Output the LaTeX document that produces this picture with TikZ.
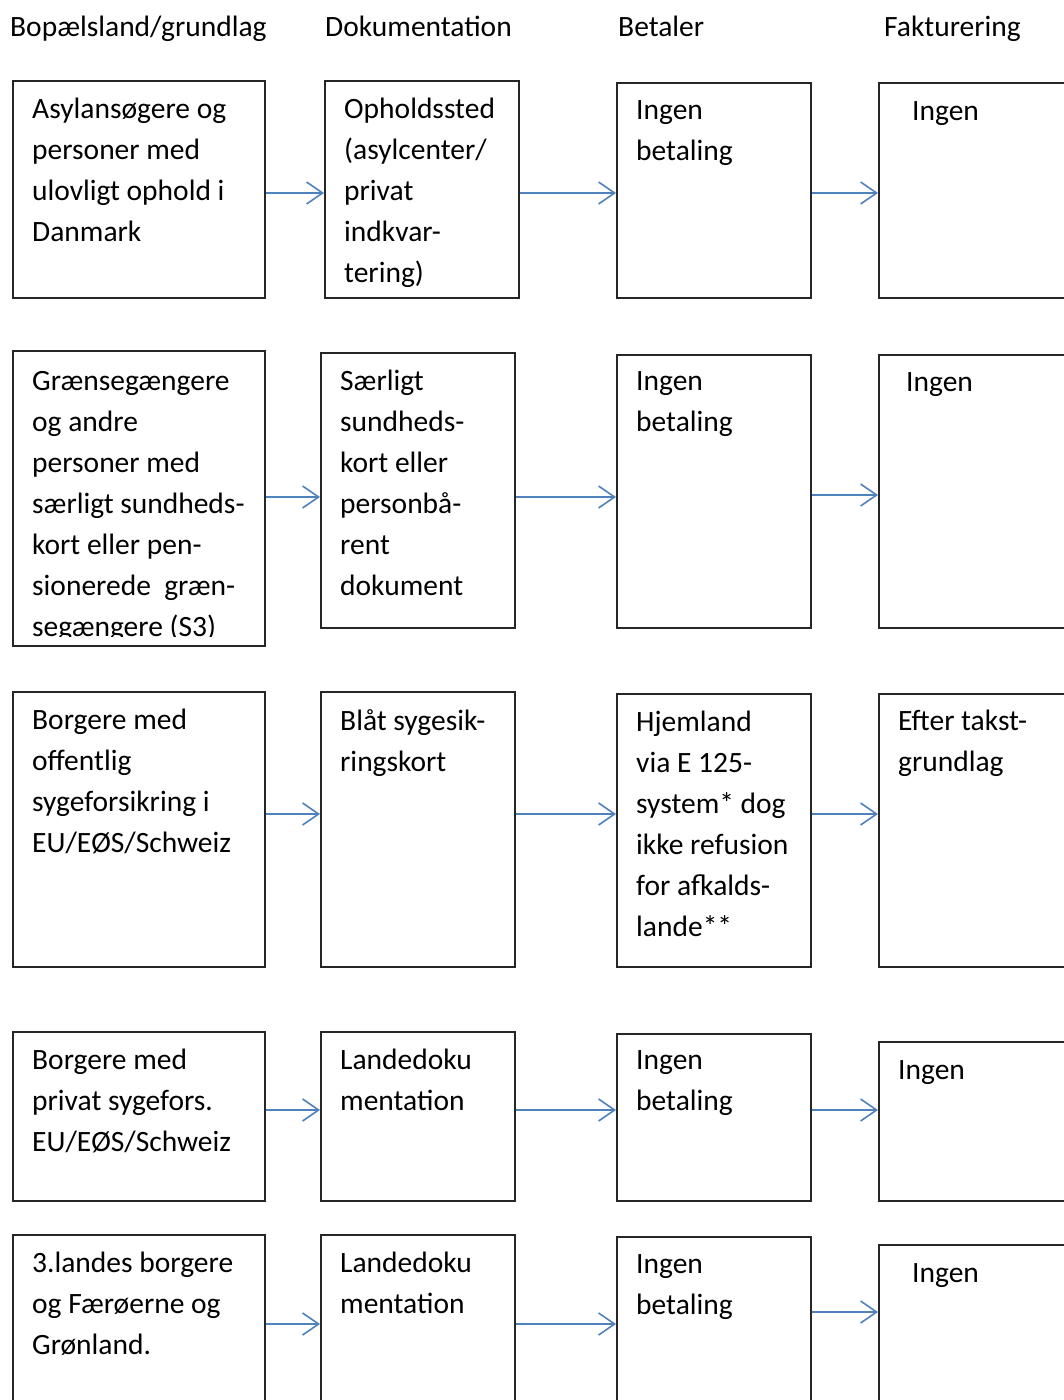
\documentclass[tikz,border=0pt]{standalone}
\usepackage{fontspec}
\setmainfont{Carlito}
\usetikzlibrary{positioning,arrows.meta,calc}

\begin{document}
\begin{tikzpicture}[x=1pt, y=-1pt,
		box/.style={rectangle, draw=black!85, line width=1.5pt, anchor=north west, inner sep=0pt},
		txt/.style={anchor=north west, align=left, inner sep=0pt, font=\fontsize{29.5}{41}\selectfont, execute at begin node=\strut},
		arr/.style={draw={rgb,255:red,79;green,129;blue,189}, line width=1.6pt, -{Straight Barb[length=16pt, width=22pt, line width=1.6pt]}}
	]
	\clip (0,0) rectangle (1064,1400);
	% headings
	\node[txt] (hbop) at (10,8) {Bopælsland/grundlag};
	\node[txt] (hdok) at (325,8) {Dokumentation};
	\node[txt] (hbet) at (618,8) {Betaler};
	\node[txt] (hfak) at (884,8) {Fakturering};
	% row 1
	\node[box, minimum width=252, minimum height=217] (a1) at (12,80) {};
	\node[box, minimum width=194, minimum height=217] (a2) at (324,80) {};
	\node[box, minimum width=194, minimum height=215] (a3) at (616,82) {};
	\node[box, minimum width=200, minimum height=215] (a4) at (878,82) {};
	\node[txt] (a1text) at ($(a1.north west)+(20,18)$) {Asylansøgere og\\personer med\\ulovligt ophold i\\Danmark};
	\node[txt] (a2text) at ($(a2.north west)+(20,18)$) {Opholdssted\\(asylcenter/\\privat\\indkvar-\\tering)};
	\node[txt] (a3text) at ($(a3.north west)+(20,18)$) {Ingen\\betaling};
	\node[txt] (a4text) at ($(a4.north west)+(34,10)$) {Ingen};
	% row 2
	\node[box, minimum width=252, minimum height=295] (b1) at (12,350) {};
	\node[box, minimum width=194, minimum height=275] (b2) at (320,352) {};
	\node[box, minimum width=194, minimum height=273] (b3) at (616,354) {};
	\node[box, minimum width=200, minimum height=273] (b4) at (878,354) {};
	\begin{scope}
		\clip (b1.north west) rectangle ([yshift=10pt]b1.south east);
		\node[txt] (b1text) at ($(b1.north west)+(20,21)$) {Grænsegængere\\og andre\\personer med\\særligt sundheds-\\kort eller pen-\\sionerede~ græn-\\segængere (S3)};
	\end{scope}
	\node[txt] (b2text) at ($(b2.north west)+(20,18)$) {Særligt\\sundheds-\\kort eller\\personbå-\\rent\\dokument};
	\node[txt] (b3text) at ($(b3.north west)+(20,17)$) {Ingen\\betaling};
	\node[txt] (b4text) at ($(b4.north west)+(28,9)$) {Ingen};
	% row 3
	\node[box, minimum width=252, minimum height=275] (c1) at (12,691) {};
	\node[box, minimum width=194, minimum height=275] (c2) at (320,691) {};
	\node[box, minimum width=194, minimum height=273] (c3) at (616,693) {};
	\node[box, minimum width=200, minimum height=273] (c4) at (878,693) {};
	\node[txt] (c1text) at ($(c1.north west)+(20,18)$) {Borgere med\\offentlig\\sygeforsikring i\\EU/EØS/Schweiz};
	\node[txt] (c2text) at ($(c2.north west)+(20,18)$) {Blåt sygesik-\\ringskort};
	\node[txt] (c3text) at ($(c3.north west)+(20,18)$) {Hjemland\\via E 125-\\system* dog\\ikke refusion\\for afkalds-\\lande**};
	\node[txt] (c4text) at ($(c4.north west)+(20,17)$) {Efter takst-\\grundlag};
	% row 4
	\node[box, minimum width=252, minimum height=169] (d1) at (12,1031) {};
	\node[box, minimum width=194, minimum height=169] (d2) at (320,1031) {};
	\node[box, minimum width=194, minimum height=167] (d3) at (616,1033) {};
	\node[box, minimum width=200, minimum height=159] (d4) at (878,1041) {};
	\node[txt] (d1text) at ($(d1.north west)+(20,18)$) {Borgere med\\privat sygefors.\\EU/EØS/Schweiz};
	\node[txt] (d2text) at ($(d2.north west)+(20,18)$) {Landedoku\\mentation};
	\node[txt] (d3text) at ($(d3.north west)+(20,17)$) {Ingen\\betaling};
	\node[txt] (d4text) at ($(d4.north west)+(20,10)$) {Ingen};
	% row 5
	\node[box, minimum width=252, minimum height=200] (e1) at (12,1234) {};
	\node[box, minimum width=194, minimum height=200] (e2) at (320,1234) {};
	\node[box, minimum width=194, minimum height=200] (e3) at (616,1236) {};
	\node[box, minimum width=200, minimum height=200] (e4) at (878,1244) {};
	\node[txt] (e1text) at ($(e1.north west)+(20,18)$) {3.landes borgere\\og Færøerne og\\Grønland.};
	\node[txt] (e2text) at ($(e2.north west)+(20,18)$) {Landedoku\\mentation};
	\node[txt] (e3text) at ($(e3.north west)+(20,18)$) {Ingen\\betaling};
	\node[txt] (e4text) at ($(e4.north west)+(34,10)$) {Ingen};
	% arrows
	\draw[arr] (a1.east |- 0,193) -- (a2.west |- 0,193);
	\draw[arr] (a2.east |- 0,193) -- (a3.west |- 0,193);
	\draw[arr] (a3.east |- 0,193) -- (a4.west |- 0,193);
	\draw[arr] (b1.east |- 0,497) -- (b2.west |- 0,497);
	\draw[arr] (b2.east |- 0,497) -- (b3.west |- 0,497);
	\draw[arr] (b3.east |- 0,495) -- (b4.west |- 0,495);
	\draw[arr] (c1.east |- 0,814) -- (c2.west |- 0,814);
	\draw[arr] (c2.east |- 0,814) -- (c3.west |- 0,814);
	\draw[arr] (c3.east |- 0,814) -- (c4.west |- 0,814);
	\draw[arr] (d1.east |- 0,1110) -- (d2.west |- 0,1110);
	\draw[arr] (d2.east |- 0,1110) -- (d3.west |- 0,1110);
	\draw[arr] (d3.east |- 0,1110) -- (d4.west |- 0,1110);
	\draw[arr] (e1.east |- 0,1324) -- (e2.west |- 0,1324);
	\draw[arr] (e2.east |- 0,1324) -- (e3.west |- 0,1324);
	\draw[arr] (e3.east |- 0,1312) -- (e4.west |- 0,1312);
\end{tikzpicture}
\end{document}
